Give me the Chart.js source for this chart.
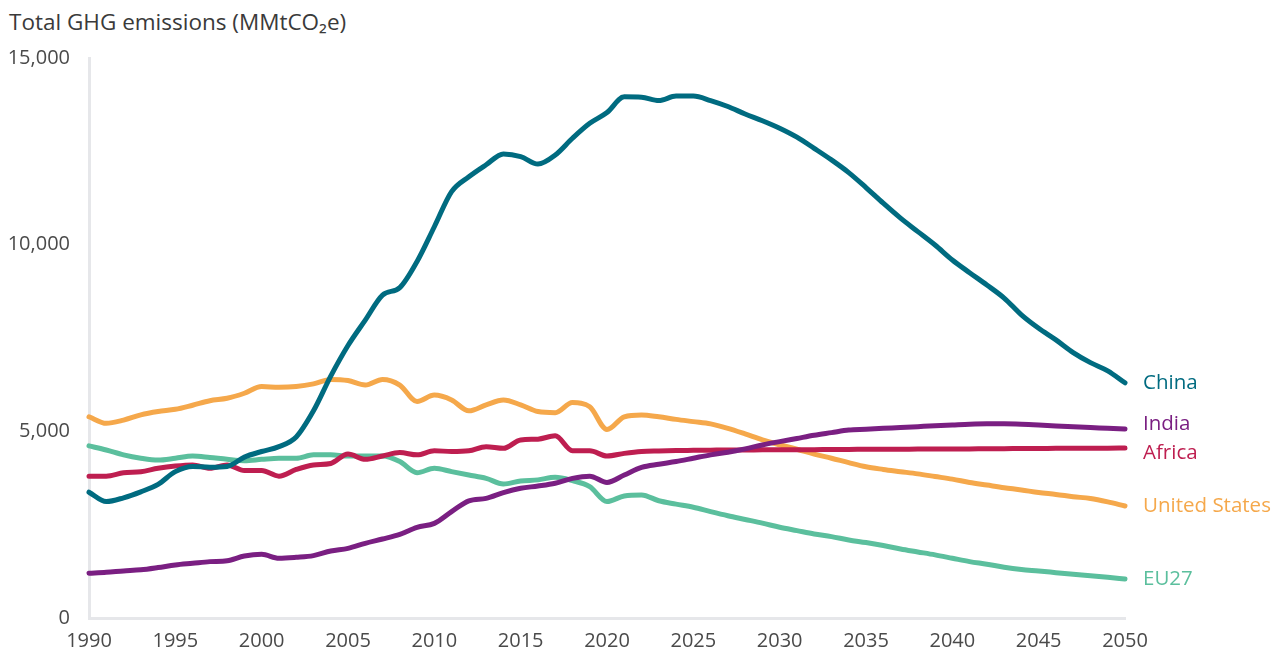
<!DOCTYPE html>
<html>
<head>
<meta charset="utf-8">
<script src="https://cdn.jsdelivr.net/npm/chart.js@4.4.1/dist/chart.umd.min.js"></script>
<style>
  html, body { margin: 0; padding: 0; background: #fff; }
  #wrap { position: relative; width: 1278px; height: 650px; overflow: hidden; }
  #title { position: absolute; left: 9px; top: 6px; font-family: "Open Sans", sans-serif; font-size: 22.5px; color: #3a3a3a; }
  canvas { position: absolute; left: 0; top: 0; }
</style>
</head>
<body>
<div id="wrap">
  <div id="title">Total GHG emissions (MMtCO₂e)</div>
  <canvas id="chart" width="1278" height="650"></canvas>
</div>
<script>
// -------- Data (MMtCO2e) --------
const years = [
  1990, 1991, 1992, 1993, 1994, 1995, 1996, 1997, 1998, 1999,
  2000, 2001, 2002, 2003, 2004, 2005, 2006, 2007, 2008, 2009,
  2010, 2011, 2012, 2013, 2014, 2015, 2016, 2017, 2018, 2019,
  2020, 2021, 2022, 2023, 2024, 2025, 2026, 2027, 2028, 2029,
  2030, 2031, 2032, 2033, 2034, 2035, 2036, 2037, 2038, 2039,
  2040, 2041, 2042, 2043, 2044, 2045, 2046, 2047, 2048, 2049, 2050
];

const china = [
  3370, 3120, 3220, 3380, 3580, 3920, 4060, 4040, 4060, 4310,
  4460, 4590, 4850, 5550, 6480, 7300, 7980, 8650, 8850, 9550,
  10480, 11420, 11820, 12140, 12430, 12360, 12160, 12400, 12850, 13250,
  13540, 13960, 13950, 13860, 13980, 13980, 13860, 13700, 13500, 13320,
  13120, 12880, 12580, 12270, 11930, 11530, 11110, 10710, 10350, 9990,
  9590, 9250, 8920, 8570, 8120, 7760, 7450, 7110, 6840, 6620, 6300
];

const india = [
  1200, 1225, 1260, 1290, 1350, 1420, 1465, 1510, 1535, 1660,
  1705, 1600, 1625, 1670, 1795, 1865, 2000, 2115, 2240, 2430,
  2535, 2850, 3140, 3205, 3360, 3475, 3535, 3610, 3740, 3800,
  3630, 3830, 4035, 4120, 4190, 4280, 4370, 4440, 4530, 4635,
  4725, 4810, 4895, 4965, 5035, 5055, 5080, 5100, 5125, 5150,
  5170, 5190, 5200, 5200, 5190, 5170, 5145, 5125, 5105, 5080, 5060
];

const africa = [
  3800, 3800, 3890, 3920, 4010, 4070, 4100, 4010, 4100, 3950,
  3950, 3800, 3980, 4100, 4140, 4390, 4250, 4340, 4430, 4370,
  4480, 4460, 4480, 4590, 4545, 4770, 4790, 4880, 4480, 4480,
  4340, 4410, 4460, 4475, 4485, 4490, 4495, 4500, 4500, 4505,
  4505, 4510, 4510, 4515, 4515, 4520, 4520, 4520, 4525, 4525,
  4530, 4530, 4535, 4535, 4540, 4540, 4545, 4545, 4550, 4550, 4555
];

const unitedStates = [
  5390, 5215, 5300, 5440, 5530, 5590, 5700, 5820, 5885, 6020,
  6200, 6180, 6200, 6270, 6390, 6360, 6240, 6390, 6240, 5800,
  5970, 5840, 5550, 5710, 5840, 5710, 5530, 5500, 5770, 5660,
  5050, 5390, 5440, 5390, 5320, 5260, 5200, 5080, 4930, 4770,
  4640, 4520, 4390, 4280, 4160, 4050, 3980, 3920, 3860, 3790,
  3720, 3630, 3560, 3490, 3430, 3360, 3310, 3250, 3200, 3110, 3000
];

const eu27 = [
  4610, 4500, 4370, 4280, 4230, 4280, 4340, 4300, 4250, 4215,
  4250, 4280, 4280, 4370, 4370, 4340, 4340, 4340, 4190, 3890,
  4010, 3920, 3830, 3740, 3590, 3670, 3700, 3770, 3680, 3520,
  3120, 3270, 3295, 3140, 3050, 2965, 2850, 2740, 2640, 2540,
  2430, 2340, 2250, 2180, 2090, 2020, 1940, 1850, 1770, 1690,
  1600, 1510, 1440, 1360, 1300, 1260, 1215, 1170, 1130, 1090, 1045
];

const yTicks = [0, 5000, 10000, 15000];
const xTicks = [1990, 1995, 2000, 2005, 2010, 2015, 2020, 2025, 2030, 2035, 2040, 2045, 2050];

// -------- Series styling --------
const series = [
  { label: "China",         values: china,        color: "#006b80", dy: 0 },
  { label: "India",         values: india,        color: "#7a1f82", dy: -5 },
  { label: "Africa",        values: africa,       color: "#be1e50", dy: 5 },
  { label: "United States", values: unitedStates, color: "#f5a84b", dy: 0 },
  { label: "EU27",          values: eu27,         color: "#5bbf9d", dy: 0 }
];

const FONT = "'Open Sans', sans-serif";

// end-of-line labels
const endLabels = {
  id: "endLabels",
  afterDatasetsDraw(chart) {
    const ctx = chart.ctx;
    ctx.save();
    ctx.font = "20.5px " + FONT;
    ctx.textAlign = "left";
    ctx.textBaseline = "middle";
    chart.data.datasets.forEach((ds, i) => {
      const meta = chart.getDatasetMeta(i);
      const last = meta.data[meta.data.length - 1];
      ctx.fillStyle = ds.borderColor;
      ctx.fillText(ds.label, last.x + 18, last.y + series[i].dy);
    });
    ctx.restore();
  }
};

const ctx = document.getElementById("chart").getContext("2d");
new Chart(ctx, {
  type: "line",
  data: {
    datasets: series.map(s => ({
      label: s.label,
      data: years.map((yr, i) => ({ x: yr, y: s.values[i] })),
      borderColor: s.color,
      backgroundColor: s.color,
      borderWidth: 5,
      borderCapStyle: "round",
      borderJoinStyle: "round",
      pointRadius: 0,
      cubicInterpolationMode: "monotone",
      fill: false
    }))
  },
  options: {
    responsive: false,
    animation: false,
    clip: false,
    layout: { padding: { left: 0, top: 58, right: 153, bottom: 0 } },
    plugins: { legend: { display: false }, tooltip: { enabled: false } },
    scales: {
      x: {
        type: "linear",
        min: 1990,
        max: 2050,
        afterBuildTicks: s => { s.ticks = xTicks.map(v => ({ value: v })); },
        afterFit: s => { s.height = 32; },
        grid: { display: false },
        border: { display: true, color: "#e6e7ea", width: 3 },
        ticks: {
          color: "#4a4a4a",
          font: { family: FONT, size: 20 },
          padding: 3,
          maxRotation: 0,
          callback: v => String(v)
        }
      },
      y: {
        min: 0,
        max: 15000,
        afterBuildTicks: s => { s.ticks = yTicks.map(v => ({ value: v })); },
        afterFit: s => { s.width = 89; },
        grid: { display: false },
        border: { display: true, color: "#e6e7ea", width: 3 },
        ticks: {
          color: "#4a4a4a",
          font: { family: FONT, size: 20 },
          padding: 11,
          callback: v => v.toLocaleString("en-US")
        }
      }
    }
  },
  plugins: [endLabels]
});
</script>
</body>
</html>
